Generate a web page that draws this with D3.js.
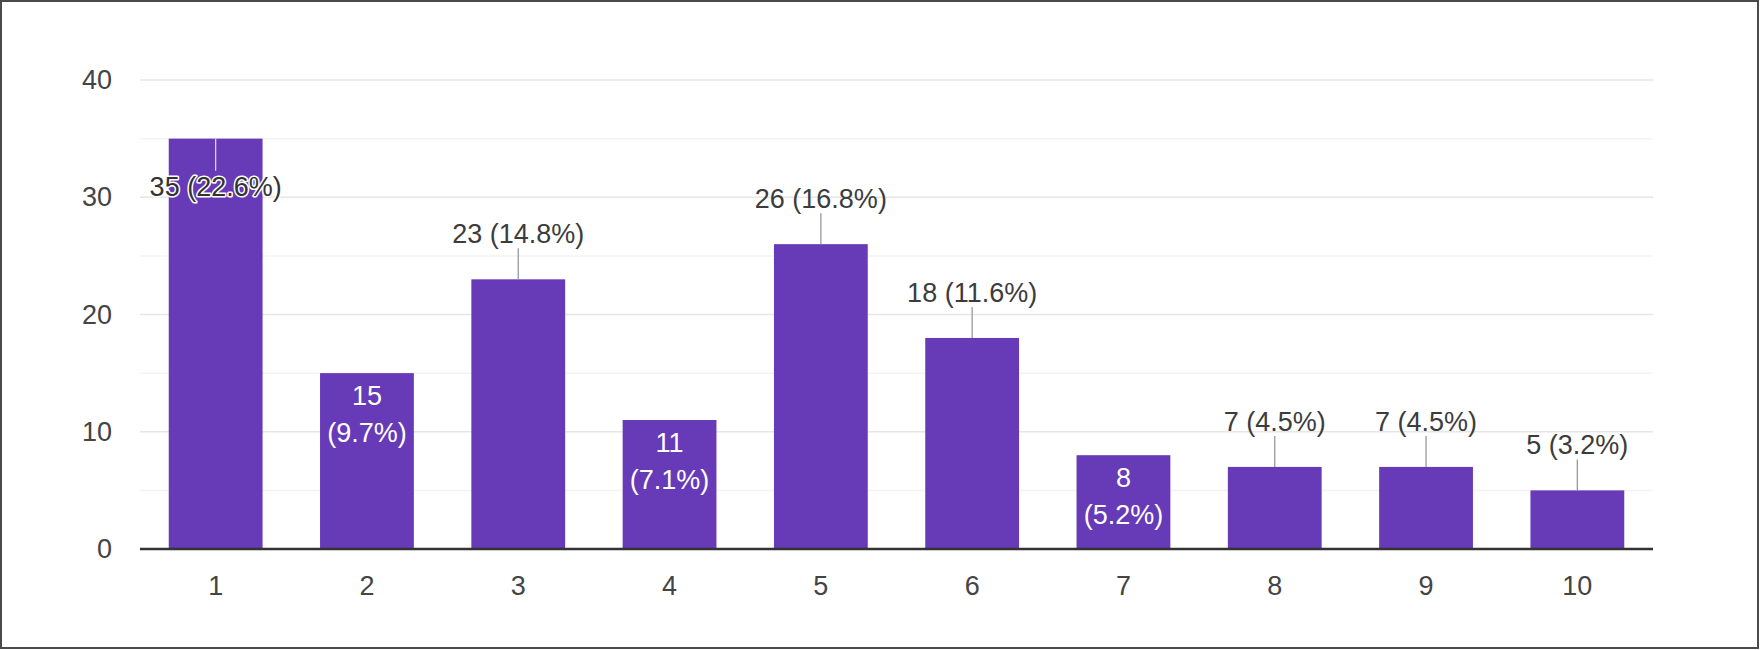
<!DOCTYPE html>
<html>
<head>
<meta charset="utf-8">
<script src="https://cdn.jsdelivr.net/npm/d3@7"></script>
<style>
  html, body { margin: 0; padding: 0; background: #fff; }
  svg { display: block; }
  text { font-family: "Liberation Sans", Arial, sans-serif; }
</style>
</head>
<body>
<svg id="chart" width="1760" height="650"></svg>
<script>
// ---- data ----
const categories = ["1", "2", "3", "4", "5", "6", "7", "8", "9", "10"];
const counts = [35, 15, 23, 11, 26, 18, 8, 7, 7, 5];
const yTicks = [0, 10, 20, 30, 40];
const yMinorTicks = [5, 15, 25, 35];
// label placement as in the reference: "inside" (white, wrapped), "above" (stem), "overlap"
const labelMode = ["overlap", "inside", "above", "inside", "above", "above", "inside", "above", "above", "above"];

const total = d3.sum(counts);
const data = categories.map((c, i) => ({
  cat: c, v: counts[i], pct: (counts[i] / total * 100).toFixed(1) + "%", mode: labelMode[i]
}));

const svg = d3.select("#chart");
const W = 1760, H = 650;
const FONT = "'Liberation Sans', Arial, sans-serif";

// frame
svg.append("rect").attr("x", 1).attr("y", 1).attr("width", W - 3).attr("height", H - 3)
  .attr("fill", "#fff").attr("stroke", "#4a4a4a").attr("stroke-width", 2);

const plot = { left: 140, right: 1653, top: 80, bottom: 549 };

const x = d3.scaleBand().domain(categories).range([plot.left, plot.right])
  .paddingInner(0.38).paddingOuter(0.19);
const y = d3.scaleLinear().domain([0, 40]).range([plot.bottom, plot.top]);

const fontSize = 27;

// minor gridlines
svg.append("g").selectAll("line").data(yMinorTicks).join("line")
  .attr("x1", plot.left).attr("x2", plot.right)
  .attr("y1", d => y(d)).attr("y2", d => y(d))
  .attr("stroke", "#f3f3f3").attr("stroke-width", 1.5);

// major gridlines
svg.append("g").selectAll("line").data(yTicks.filter(d => d > 0)).join("line")
  .attr("x1", plot.left).attr("x2", plot.right)
  .attr("y1", d => y(d)).attr("y2", d => y(d))
  .attr("stroke", "#e6e6e6").attr("stroke-width", 1.5);

// y axis labels
const yAxis = d3.axisLeft(y).tickValues(yTicks).tickSize(0).tickPadding(0).tickFormat(d3.format("d"));
const gy = svg.append("g").attr("transform", `translate(${plot.left - 28},0)`).call(yAxis);
gy.select(".domain").remove();
gy.selectAll("text").attr("font-size", fontSize).attr("fill", "#444").attr("font-family", FONT);

// bars
svg.append("g").selectAll("rect").data(data).join("rect")
  .attr("x", d => x(d.cat)).attr("width", x.bandwidth())
  .attr("y", d => y(d.v)).attr("height", d => y(0) - y(d.v))
  .attr("fill", "#673ab7");

// baseline
svg.append("line").attr("x1", plot.left).attr("x2", plot.right)
  .attr("y1", y(0)).attr("y2", y(0)).attr("stroke", "#333").attr("stroke-width", 2.5);

// x axis labels
const xAxis = d3.axisBottom(x).tickSize(0).tickPadding(0);
const gx = svg.append("g").attr("transform", `translate(0,${y(0) + 27})`).call(xAxis);
gx.select(".domain").remove();
gx.selectAll("text").attr("font-size", fontSize).attr("fill", "#444").attr("font-family", FONT);

// annotations
const ann = svg.append("g");
data.forEach(d => {
  const cx = x(d.cat) + x.bandwidth() / 2;
  const top = y(d.v);
  if (d.mode === "above") {
    ann.append("line").attr("x1", cx).attr("x2", cx).attr("y1", top).attr("y2", top - 31)
      .attr("stroke", "#999").attr("stroke-width", 1.3);
    ann.append("text").attr("x", cx).attr("y", top - 36).attr("text-anchor", "middle")
      .attr("font-size", fontSize).attr("fill", "#3c3c3c")
      .text(`${d.v} (${d.pct})`);
  } else if (d.mode === "inside") {
    const t = ann.append("text").attr("text-anchor", "middle")
      .attr("font-size", fontSize).attr("fill", "#fff");
    t.append("tspan").attr("x", cx).attr("y", top + 32).text(d.v);
    t.append("tspan").attr("x", cx).attr("y", top + 69).text(`(${d.pct})`);
  } else {
    ann.append("line").attr("x1", cx).attr("x2", cx).attr("y1", top).attr("y2", top + 32)
      .attr("stroke", "#d8d0ee").attr("stroke-width", 1.3);
    ann.append("text").attr("x", cx).attr("y", top + 57).attr("text-anchor", "middle")
      .attr("font-size", fontSize).attr("fill", "#333")
      .attr("stroke", "#fff").attr("stroke-width", 3).attr("paint-order", "stroke")
      .attr("stroke-linejoin", "round")
      .text(`${d.v} (${d.pct})`);
  }
});
</script>
</body>
</html>
